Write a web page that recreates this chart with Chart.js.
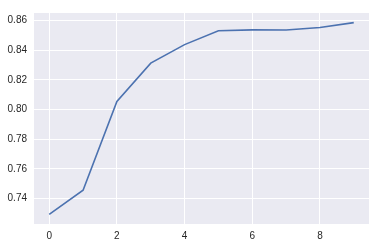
<!DOCTYPE html>
<html>
<head>
<meta charset="utf-8">
<script src="https://cdn.jsdelivr.net/npm/chart.js@4.4.1/dist/chart.umd.min.js"></script>
<style>
  html, body { margin: 0; padding: 0; background: #ffffff; }
  #wrap { width: 375px; height: 248px; }
</style>
</head>
<body>
<div id="wrap"><canvas id="myChart" width="375" height="248"></canvas></div>
<script>
// data
const epochs = [0, 1, 2, 3, 4, 5, 6, 7, 8, 9];
const scores = [0.7294, 0.7457, 0.8055, 0.8313, 0.8438, 0.8531, 0.8537, 0.8536, 0.8553, 0.8586];
const xTicks = [0, 2, 4, 6, 8];
const yTicks = [0.74, 0.76, 0.78, 0.80, 0.82, 0.84, 0.86];

// seaborn darkgrid look
const plotBg = {
    id: 'plotBg',
    beforeDraw(chart) {
        const { ctx, chartArea: a } = chart;
        ctx.save();
        ctx.fillStyle = '#EAEAF2';
        ctx.fillRect(a.left, a.top, a.right - a.left, a.bottom - a.top);
        ctx.restore();
    }
};

const tickFont = { family: 'Liberation Sans, Arial, sans-serif', size: 10 };

const ctx = document.getElementById('myChart');
let myChart = new Chart(ctx, {
    type: 'line',
    data: {
        datasets: [{
            data: epochs.map((e, i) => ({ x: e, y: scores[i] })),
            borderColor: '#4C72B0',
            borderWidth: 1.6,
            pointRadius: 0,
            tension: 0,
            fill: false
        }]
    },
    options: {
        responsive: false,
        animation: false,
        layout: { padding: { top: 6, right: 6, left: 0, bottom: 0 } },
        plugins: { legend: { display: false }, tooltip: { enabled: false } },
        scales: {
            x: {
                type: 'linear',
                min: -0.45,
                max: 9.45,
                afterBuildTicks: axis => { axis.ticks = xTicks.map(v => ({ value: v })); },
                afterFit: axis => { axis.height = 24; },
                grid: { color: '#ffffff', lineWidth: 1, drawTicks: false },
                border: { display: false },
                ticks: {
                    color: '#262626',
                    font: tickFont,
                    padding: 6,
                    maxRotation: 0,
                    callback: v => String(v)
                }
            },
            y: {
                type: 'linear',
                min: 0.7229,
                max: 0.8651,
                afterBuildTicks: axis => { axis.ticks = yTicks.map(v => ({ value: v })); },
                afterFit: axis => { axis.width = 34; },
                grid: { color: '#ffffff', lineWidth: 1, drawTicks: false },
                border: { display: false },
                ticks: {
                    color: '#262626',
                    font: tickFont,
                    padding: 7,
                    callback: v => v.toFixed(2)
                }
            }
        }
    },
    plugins: [plotBg]
});
</script>
</body>
</html>
